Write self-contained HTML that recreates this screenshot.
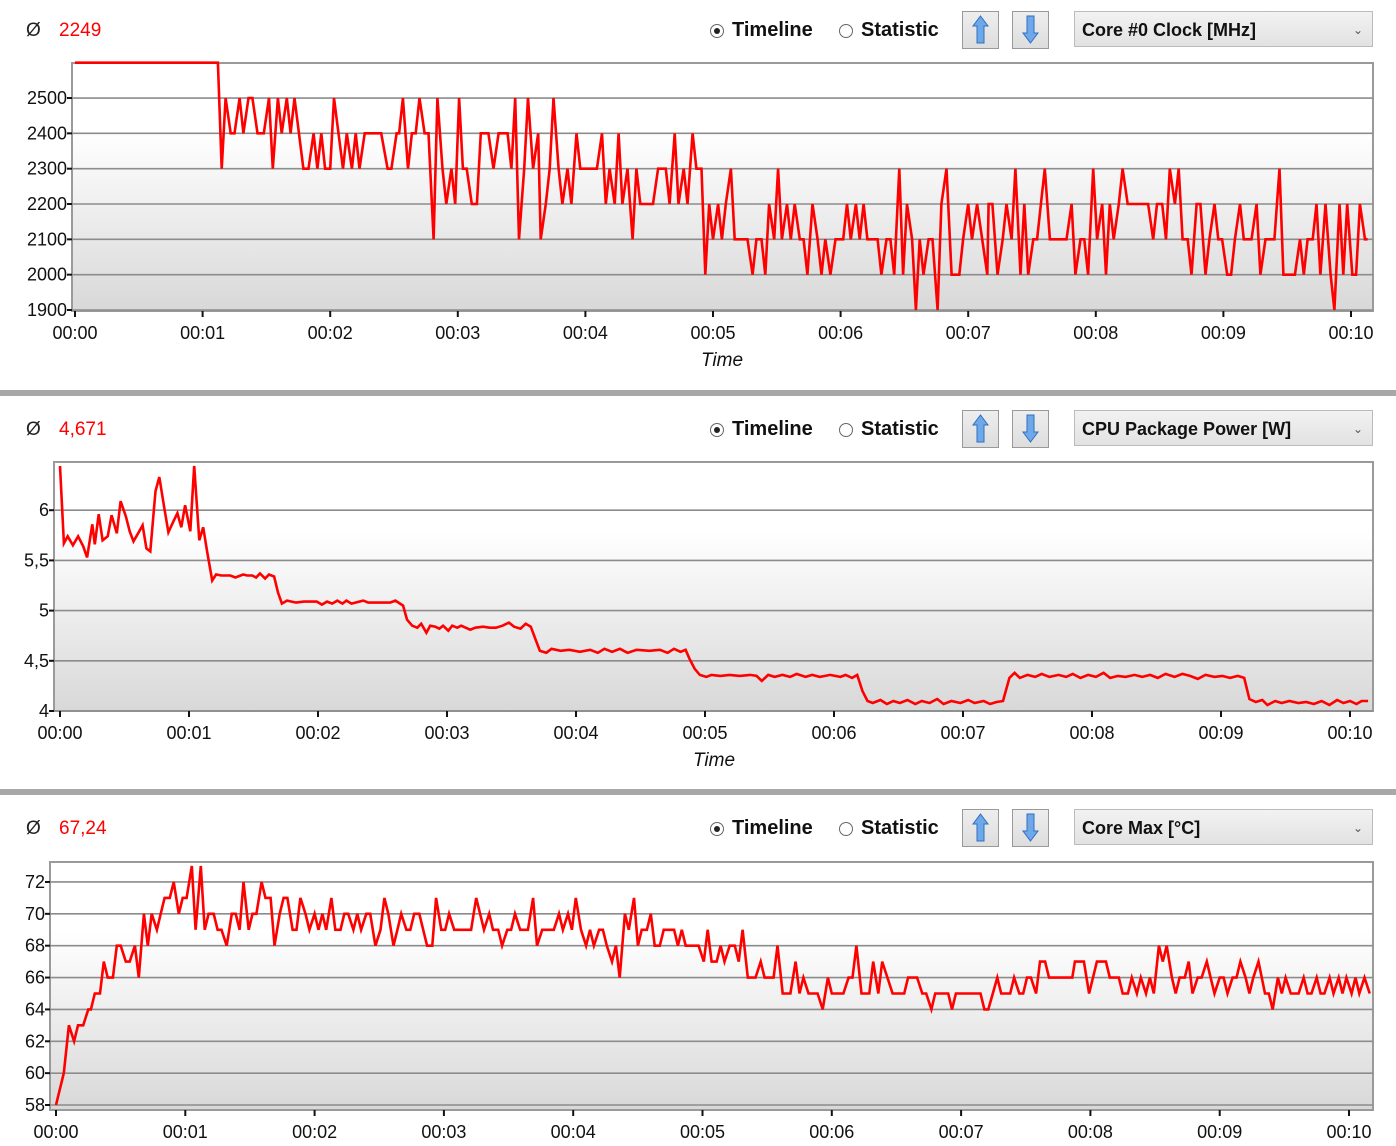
<!DOCTYPE html>
<html><head><meta charset="utf-8">
<style>
html,body{margin:0;padding:0;background:#fff;}
body{width:1396px;height:1146px;position:relative;overflow:hidden;font-family:"Liberation Sans",sans-serif;}
.hdr{position:absolute;left:0;width:1396px;height:50px;}
.avg-sym{position:absolute;left:26px;top:20px;font-size:19px;color:#222;}
.avg-val{position:absolute;left:59px;top:20px;font-size:19px;color:#f00;}
.radio{position:absolute;top:19px;font-size:20px;font-weight:bold;color:#111;display:flex;align-items:center;}
.radio .dot{width:12px;height:12px;border:1px solid #666;border-radius:50%;margin-right:8px;position:relative;background:#fff;}
.radio .dot.on::after{content:"";position:absolute;left:3px;top:3px;width:6px;height:6px;border-radius:50%;background:#222;}
.btn{position:absolute;top:11px;width:35px;height:36px;border:1px solid #999;background:linear-gradient(#eee,#ddd);}
.btn svg{position:absolute;left:0;top:0;}
.dd{position:absolute;left:1074px;top:11px;width:299px;height:36px;border:1px solid #bbb;background:linear-gradient(#f2f2f2,#e2e2e2);font-size:18px;font-weight:bold;line-height:36px;box-sizing:border-box;padding-left:7px;color:#111;}
.dd span.car{position:absolute;right:9px;top:0;font-size:12px;font-weight:normal;color:#555;}
.sep{position:absolute;left:0;width:1396px;height:6px;background:#a8a8a8;}
svg.chart{position:absolute;left:0;}
</style></head>
<body>
<div class="hdr" style="top:0">
 <div class="avg-sym">Ø</div>
 <div class="avg-val">2249</div>
 <div class="radio" style="left:710px"><span class="dot on"></span>Timeline</div>
 <div class="radio" style="left:839px"><span class="dot"></span>Statistic</div>
 <div class="btn" style="left:962px"><svg width="35" height="35"><path d="M17.5 4 L25 14 L21 14 L21 31 L14 31 L14 14 L10 14 Z" fill="#6fa8e8" stroke="#2f6fc0" stroke-width="1"/></svg></div>
 <div class="btn" style="left:1012px"><svg width="35" height="35"><path d="M17.5 31 L25 21 L21 21 L21 4 L14 4 L14 21 L10 21 Z" fill="#6fa8e8" stroke="#2f6fc0" stroke-width="1"/></svg></div>
 <div class="dd">Core #0 Clock [MHz]<span class="car">&#8964;</span></div>
</div>
<svg class="chart" id="c1" style="top:50px" width="1396" height="340"></svg>
<div class="sep" style="top:390px"></div>

<div class="hdr" style="top:399px">
 <div class="avg-sym">Ø</div>
 <div class="avg-val">4,671</div>
 <div class="radio" style="left:710px"><span class="dot on"></span>Timeline</div>
 <div class="radio" style="left:839px"><span class="dot"></span>Statistic</div>
 <div class="btn" style="left:962px"><svg width="35" height="35"><path d="M17.5 4 L25 14 L21 14 L21 31 L14 31 L14 14 L10 14 Z" fill="#6fa8e8" stroke="#2f6fc0" stroke-width="1"/></svg></div>
 <div class="btn" style="left:1012px"><svg width="35" height="35"><path d="M17.5 31 L25 21 L21 21 L21 4 L14 4 L14 21 L10 21 Z" fill="#6fa8e8" stroke="#2f6fc0" stroke-width="1"/></svg></div>
 <div class="dd">CPU Package Power [W]<span class="car">&#8964;</span></div>
</div>
<svg class="chart" id="c2" style="top:449px" width="1396" height="340"></svg>
<div class="sep" style="top:789px"></div>

<div class="hdr" style="top:798px">
 <div class="avg-sym">Ø</div>
 <div class="avg-val">67,24</div>
 <div class="radio" style="left:710px"><span class="dot on"></span>Timeline</div>
 <div class="radio" style="left:839px"><span class="dot"></span>Statistic</div>
 <div class="btn" style="left:962px"><svg width="35" height="35"><path d="M17.5 4 L25 14 L21 14 L21 31 L14 31 L14 14 L10 14 Z" fill="#6fa8e8" stroke="#2f6fc0" stroke-width="1"/></svg></div>
 <div class="btn" style="left:1012px"><svg width="35" height="35"><path d="M17.5 31 L25 21 L21 21 L21 4 L14 4 L14 21 L10 21 Z" fill="#6fa8e8" stroke="#2f6fc0" stroke-width="1"/></svg></div>
 <div class="dd">Core Max [°C]<span class="car">&#8964;</span></div>
</div>
<svg class="chart" id="c3" style="top:848px" width="1396" height="298"></svg>

<script>
const xTickLabels = ["00:00","00:01","00:02","00:03","00:04","00:05","00:06","00:07","00:08","00:09","00:10"];

const clockTicks = [1900,2000,2100,2200,2300,2400,2500];
const clockTimes = [0,1.12,1.15,1.18,1.22,1.25,1.29,1.32,1.36,1.39,1.43,1.48,1.52,1.55,1.59,1.62,1.66,1.69,1.72,1.79,1.83,1.87,1.90,1.93,1.96,2.00,2.03,2.10,2.13,2.17,2.20,2.23,2.27,2.40,2.45,2.48,2.52,2.54,2.57,2.61,2.64,2.67,2.70,2.74,2.77,2.81,2.84,2.88,2.91,2.95,2.98,3.01,3.04,3.07,3.11,3.15,3.18,3.24,3.28,3.32,3.39,3.42,3.45,3.48,3.52,3.55,3.59,3.63,3.65,3.69,3.72,3.75,3.79,3.82,3.86,3.89,3.93,3.96,4.09,4.13,4.16,4.19,4.23,4.26,4.29,4.33,4.37,4.40,4.43,4.53,4.57,4.63,4.66,4.70,4.73,4.77,4.80,4.84,4.87,4.91,4.94,4.97,5.00,5.04,5.07,5.10,5.14,5.17,5.27,5.31,5.34,5.38,5.41,5.44,5.48,5.51,5.54,5.58,5.61,5.64,5.68,5.71,5.74,5.78,5.82,5.85,5.88,5.92,5.96,6.02,6.05,6.08,6.12,6.15,6.18,6.21,6.29,6.32,6.36,6.39,6.42,6.46,6.49,6.52,6.56,6.59,6.62,6.65,6.69,6.72,6.76,6.79,6.83,6.87,6.93,6.96,7.00,7.03,7.07,7.11,7.15,7.16,7.19,7.23,7.27,7.30,7.34,7.37,7.41,7.44,7.47,7.51,7.54,7.57,7.60,7.64,7.77,7.81,7.84,7.88,7.91,7.94,7.98,8.01,8.05,8.08,8.11,8.14,8.18,8.21,8.25,8.41,8.45,8.48,8.52,8.55,8.58,8.62,8.65,8.68,8.72,8.75,8.79,8.82,8.86,8.89,8.93,8.96,8.99,9.03,9.06,9.09,9.13,9.16,9.22,9.26,9.29,9.33,9.40,9.44,9.47,9.56,9.60,9.63,9.66,9.70,9.73,9.76,9.80,9.84,9.87,9.91,9.94,9.97,10.01,10.04,10.07,10.11,10.13];
const clockValues = [2600,2600,2300,2500,2400,2400,2500,2400,2500,2500,2400,2400,2500,2300,2500,2400,2500,2400,2500,2300,2300,2400,2300,2400,2300,2300,2500,2300,2400,2300,2400,2300,2400,2400,2300,2300,2400,2400,2500,2300,2400,2400,2500,2400,2400,2100,2500,2300,2200,2300,2200,2500,2300,2300,2200,2200,2400,2400,2300,2400,2400,2300,2500,2100,2300,2500,2300,2400,2100,2200,2300,2500,2300,2200,2300,2200,2400,2300,2300,2400,2200,2300,2200,2400,2200,2300,2100,2300,2200,2200,2300,2300,2200,2400,2200,2300,2200,2400,2300,2300,2000,2200,2100,2200,2100,2200,2300,2100,2100,2000,2100,2100,2000,2200,2100,2300,2100,2200,2100,2200,2100,2100,2000,2200,2100,2000,2100,2000,2100,2100,2200,2100,2200,2100,2200,2100,2100,2000,2100,2100,2000,2300,2000,2200,2100,1900,2100,2000,2100,2100,1900,2200,2300,2000,2000,2100,2200,2100,2200,2100,2000,2200,2200,2000,2100,2200,2100,2300,2000,2200,2000,2100,2100,2200,2300,2100,2100,2200,2000,2100,2100,2000,2300,2100,2200,2000,2200,2100,2200,2300,2200,2200,2100,2200,2200,2100,2300,2200,2300,2100,2100,2000,2200,2200,2000,2100,2200,2100,2100,2000,2000,2100,2200,2100,2100,2200,2000,2100,2100,2300,2000,2000,2100,2000,2100,2100,2200,2000,2200,2000,1900,2200,2000,2200,2000,2000,2200,2100,2100];

const powerTicks = [4,4.5,5,5.5,6];
const powerTickLabels = ["4","4,5","5","5,5","6"];
const powerTimes = [0,0.03,0.06,0.10,0.14,0.18,0.21,0.25,0.27,0.30,0.33,0.37,0.40,0.44,0.47,0.51,0.54,0.57,0.61,0.64,0.67,0.70,0.74,0.77,0.81,0.84,0.88,0.91,0.94,0.97,1.01,1.04,1.08,1.11,1.14,1.18,1.21,1.25,1.32,1.36,1.42,1.45,1.49,1.52,1.55,1.59,1.62,1.66,1.69,1.72,1.76,1.83,1.89,1.99,2.03,2.07,2.11,2.15,2.19,2.22,2.26,2.35,2.39,2.56,2.60,2.66,2.69,2.73,2.77,2.80,2.84,2.87,2.91,2.94,2.97,3.01,3.04,3.08,3.11,3.18,3.22,3.28,3.33,3.38,3.43,3.48,3.52,3.57,3.61,3.65,3.69,3.72,3.77,3.81,3.88,3.95,4.03,4.11,4.17,4.22,4.28,4.34,4.40,4.47,4.57,4.65,4.71,4.76,4.81,4.85,4.88,4.92,4.96,5.01,5.05,5.12,5.19,5.27,5.35,5.40,5.44,5.49,5.54,5.60,5.66,5.71,5.78,5.83,5.89,5.97,6.05,6.09,6.14,6.18,6.22,6.26,6.30,6.36,6.41,6.46,6.51,6.57,6.63,6.68,6.74,6.80,6.85,6.91,6.98,7.04,7.09,7.16,7.21,7.26,7.31,7.36,7.40,7.44,7.50,7.56,7.61,7.67,7.74,7.80,7.85,7.91,7.97,8.03,8.09,8.14,8.20,8.26,8.33,8.39,8.45,8.51,8.57,8.64,8.70,8.76,8.82,8.88,8.95,9.01,9.07,9.13,9.18,9.22,9.27,9.32,9.36,9.42,9.47,9.53,9.60,9.66,9.72,9.78,9.84,9.90,9.95,10.00,10.05,10.09,10.14];
const powerValues = [6.44,5.67,5.74,5.65,5.74,5.64,5.53,5.86,5.66,5.96,5.70,5.74,5.95,5.77,6.09,5.94,5.79,5.69,5.78,5.85,5.62,5.59,6.19,6.33,6.01,5.78,5.89,5.97,5.83,6.05,5.79,6.44,5.70,5.83,5.59,5.30,5.36,5.35,5.35,5.33,5.36,5.35,5.35,5.33,5.37,5.32,5.36,5.34,5.18,5.07,5.10,5.08,5.09,5.09,5.06,5.09,5.07,5.10,5.07,5.10,5.07,5.10,5.08,5.08,5.10,5.05,4.91,4.85,4.83,4.87,4.78,4.85,4.84,4.82,4.85,4.80,4.85,4.83,4.85,4.81,4.83,4.84,4.83,4.83,4.85,4.88,4.84,4.82,4.87,4.84,4.70,4.60,4.58,4.62,4.60,4.61,4.59,4.61,4.58,4.62,4.59,4.62,4.58,4.61,4.60,4.61,4.58,4.62,4.59,4.61,4.52,4.42,4.36,4.34,4.36,4.35,4.36,4.35,4.36,4.35,4.30,4.36,4.34,4.36,4.34,4.37,4.34,4.36,4.34,4.36,4.34,4.36,4.33,4.36,4.20,4.10,4.08,4.11,4.07,4.10,4.08,4.11,4.07,4.10,4.08,4.12,4.07,4.10,4.08,4.11,4.08,4.10,4.07,4.09,4.10,4.33,4.38,4.33,4.36,4.34,4.37,4.34,4.36,4.34,4.37,4.33,4.36,4.34,4.38,4.33,4.35,4.34,4.36,4.34,4.36,4.33,4.37,4.34,4.37,4.35,4.32,4.36,4.34,4.35,4.33,4.35,4.33,4.12,4.09,4.11,4.06,4.10,4.08,4.10,4.08,4.09,4.07,4.10,4.06,4.11,4.08,4.10,4.07,4.10,4.10];

const tempTicks = [58,60,62,64,66,68,70,72];
const tempTimes = [0,0.06,0.10,0.14,0.17,0.21,0.25,0.27,0.30,0.34,0.37,0.40,0.44,0.47,0.50,0.54,0.57,0.61,0.64,0.68,0.71,0.74,0.78,0.81,0.84,0.88,0.91,0.95,0.98,1.01,1.05,1.08,1.12,1.15,1.18,1.22,1.25,1.28,1.32,1.36,1.39,1.42,1.45,1.49,1.52,1.55,1.59,1.62,1.66,1.69,1.73,1.76,1.79,1.83,1.86,1.89,1.93,1.96,2.00,2.03,2.06,2.09,2.13,2.16,2.20,2.23,2.26,2.30,2.33,2.36,2.40,2.43,2.47,2.51,2.54,2.57,2.61,2.64,2.67,2.71,2.74,2.77,2.81,2.84,2.87,2.91,2.94,2.98,3.01,3.04,3.08,3.21,3.25,3.28,3.31,3.35,3.38,3.42,3.45,3.49,3.52,3.55,3.59,3.65,3.69,3.72,3.76,3.85,3.89,3.92,3.96,3.99,4.02,4.06,4.10,4.13,4.16,4.20,4.23,4.26,4.30,4.33,4.36,4.40,4.43,4.47,4.50,4.53,4.57,4.60,4.63,4.67,4.70,4.78,4.81,4.84,4.87,4.97,5.01,5.04,5.07,5.11,5.14,5.17,5.21,5.25,5.28,5.31,5.35,5.41,5.45,5.48,5.55,5.58,5.62,5.68,5.72,5.75,5.78,5.82,5.89,5.93,5.97,6.00,6.09,6.13,6.16,6.19,6.23,6.29,6.32,6.36,6.39,6.47,6.56,6.59,6.66,6.70,6.73,6.77,6.80,6.90,6.93,6.96,7.15,7.18,7.21,7.28,7.31,7.38,7.41,7.45,7.48,7.51,7.54,7.58,7.61,7.65,7.68,7.86,7.88,7.95,7.99,8.02,8.05,8.12,8.15,8.22,8.25,8.29,8.32,8.36,8.39,8.43,8.46,8.49,8.53,8.56,8.59,8.63,8.66,8.69,8.73,8.76,8.79,8.83,8.86,8.90,8.93,8.96,9.00,9.03,9.06,9.10,9.13,9.16,9.20,9.23,9.26,9.30,9.35,9.38,9.41,9.45,9.48,9.51,9.55,9.61,9.65,9.68,9.71,9.75,9.78,9.81,9.85,9.88,9.92,9.95,9.98,10.02,10.05,10.08,10.12,10.16];
const tempValues = [58,60,63,62,63,63,64,64,65,65,67,66,66,68,68,67,67,68,66,70,68,70,69,70,71,71,72,70,71,71,73,69,73,69,70,70,69,69,68,70,70,69,72,69,70,70,72,71,71,68,70,71,71,69,69,71,70,69,70,69,70,69,71,69,69,70,70,69,70,69,70,70,68,69,71,70,68,69,70,69,69,70,70,69,68,68,71,69,69,70,69,69,71,70,69,70,69,69,68,69,69,70,69,69,71,68,69,69,70,69,70,69,71,69,68,69,68,69,69,68,67,68,66,70,69,71,68,69,69,70,68,68,69,69,68,69,68,68,67,69,67,67,68,67,68,68,67,69,66,66,67,66,66,68,65,65,67,65,66,65,65,64,66,65,65,66,66,68,65,65,67,65,67,65,65,66,66,65,65,64,65,65,64,65,65,64,64,66,65,65,66,65,65,66,66,65,67,67,66,66,67,67,65,66,67,67,66,66,65,65,66,65,66,65,66,65,68,67,68,66,65,66,66,67,65,66,66,67,66,65,66,66,65,66,66,67,66,65,66,67,65,65,64,66,65,66,65,65,66,65,65,66,65,65,66,65,66,65,66,65,66,65,66,65];

const NS = "http://www.w3.org/2000/svg";
function mk(parent, tag, attrs){
  const e = document.createElementNS(NS, tag);
  for (const k in attrs) e.setAttribute(k, attrs[k]);
  parent.appendChild(e);
  return e;
}

function drawPanel(svgId, cfg, times, values, yTicks, yLabels, prefix){
  const svg = document.getElementById(svgId);
  const top = cfg.top;
  const defs = mk(svg, "defs", {});
  const g = mk(defs, "linearGradient", {id: svgId+"g", x1:0, y1:0, x2:0, y2:1});
  mk(g, "stop", {offset:"0", "stop-color":"#ffffff"});
  mk(g, "stop", {offset:"0.28", "stop-color":"#ffffff"});
  mk(g, "stop", {offset:"1", "stop-color":"#d8d8d8"});
  const X = t => cfg.x0 + t * cfg.pxPerSec;
  const Y = v => cfg.yBase - (v - cfg.vBase) * cfg.pxPerUnit;

  const bg = mk(svg, "rect", {x:cfg.left, y:cfg.plotTop-top, width:cfg.right-cfg.left, height:cfg.plotBottom-cfg.plotTop, fill:"url(#"+svgId+"g)", stroke:"#9a9a9a", "stroke-width":2});
  
  

  yTicks.forEach((v, i) => {
    const y = Y(v) - top;
    const gl = mk(svg, "line", {x1:cfg.left, x2:cfg.right, y1:y, y2:y, stroke:"#8c8c8c", "stroke-width":1.6});
    
    
    mk(svg, "line", {x1:cfg.left-5, x2:cfg.left, y1:y, y2:y, stroke:"#111", "stroke-width":2});
    const tl = mk(svg, "text", {x:cfg.left-5, y:y+6, "text-anchor":"end", "font-size":18, fill:"#111", "font-family":"Liberation Sans, sans-serif"});
    tl.textContent = yLabels[i];
    
    
  });

  xTickLabels.forEach((lab, i) => {
    const x = X(i);
    mk(svg, "line", {x1:x, x2:x, y1:cfg.plotBottom-top, y2:cfg.plotBottom-top+6, stroke:"#111", "stroke-width":2});
    const tl = mk(svg, "text", {x:x, y:cfg.plotBottom-top+28, "text-anchor":"middle", "font-size":18, fill:"#111", "font-family":"Liberation Sans, sans-serif"});
    tl.textContent = lab;
    
    
  });

  if (cfg.timeLabelX){
    const tt = mk(svg, "text", {x:cfg.timeLabelX, y:cfg.plotBottom-top+55, "text-anchor":"middle", "font-size":19, "font-style":"italic", fill:"#111", "font-family":"Liberation Sans, sans-serif"});
    tt.textContent = "Time";
    
    
  }

  const pts = times.map((t, i) => X(t).toFixed(1) + "," + (Y(values[i]) - top).toFixed(1)).join(" ");
  const line = mk(svg, "polyline", {points:pts, fill:"none", stroke:"#ff0000", "stroke-width":2.6, "stroke-linejoin":"miter"});
  
  
}

drawPanel("c1", {top:50, left:72, right:1373, plotTop:63, plotBottom:311, x0:75, pxPerSec:127.6, yBase:310, vBase:1900, pxPerUnit:0.3533, timeLabelX:722},
  clockTimes, clockValues, clockTicks, clockTicks.map(String), "clock");
drawPanel("c2", {top:449, left:54, right:1373, plotTop:462, plotBottom:711, x0:60, pxPerSec:129, yBase:711, vBase:4, pxPerUnit:100.4, timeLabelX:714},
  powerTimes, powerValues, powerTicks, powerTickLabels, "power");
drawPanel("c3", {top:848, left:50, right:1373, plotTop:862, plotBottom:1110, x0:56, pxPerSec:129.3, yBase:1105, vBase:58, pxPerUnit:15.93, timeLabelX:0},
  tempTimes, tempValues, tempTicks, tempTicks.map(String), "temp");
</script>
</body></html>
